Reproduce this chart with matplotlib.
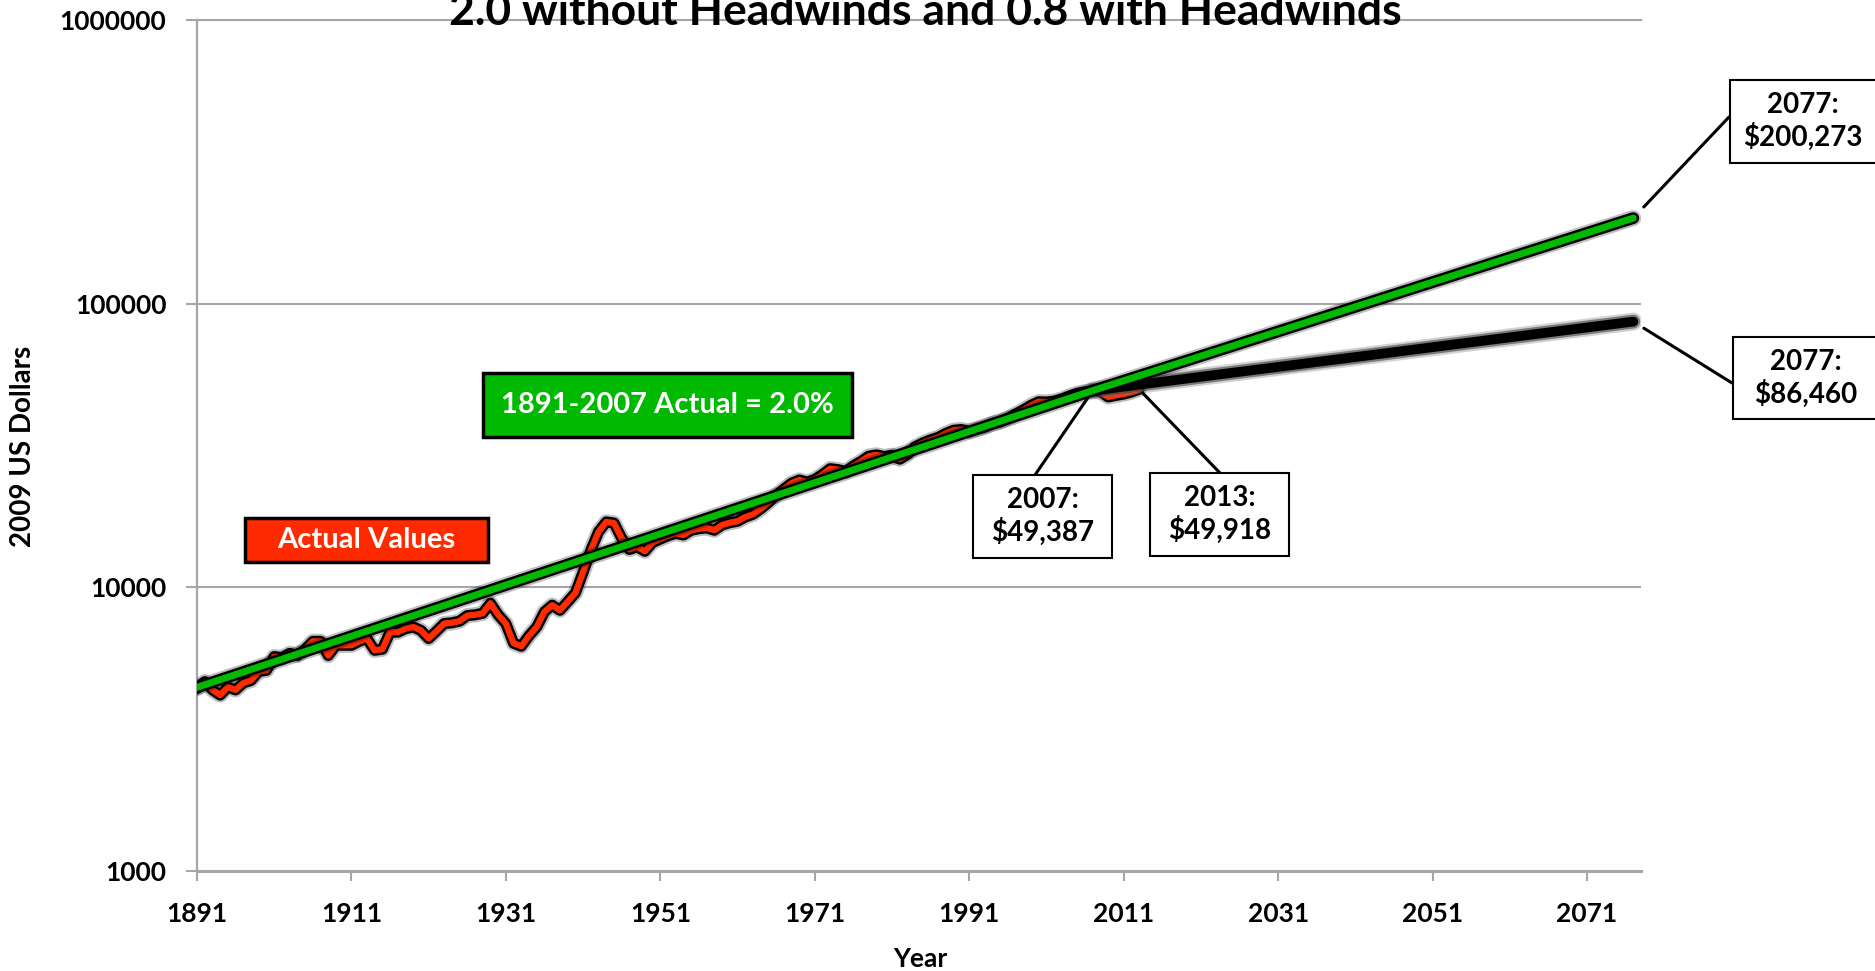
import numpy as np
import matplotlib
matplotlib.use('Agg')
import matplotlib.pyplot as plt
import matplotlib.patheffects as pe
from matplotlib.patches import Rectangle

matplotlib.rcParams['font.family'] = ['Lato', 'DejaVu Sans']
matplotlib.rcParams['font.weight'] = 'bold'

##################################################################
# actual real GDP per capita, 2009 dollars
years = np.arange(1891, 2014)
actual = [4400, 4650, 4350, 4170, 4450, 4350, 4600, 4700, 5050, 5100,
          5700, 5650, 5850, 5750, 6050, 6450, 6450, 5750, 6250, 6250,
          6250, 6450, 6600, 6000, 6050, 6950, 6950, 7150, 7250, 7050,
          6600, 7000, 7450, 7500, 7600, 7950, 8000, 8100, 8790, 8000,
          7450, 6350, 6200, 6750, 7250, 8200, 8650, 8300, 8900, 9550,
          11300, 13500, 15700, 17000, 16850, 14900, 13600, 13900, 13400, 14400,
          14800, 15200, 15500, 15300, 15900, 16100, 16200, 15900, 16600, 16900,
          17100, 17700, 18100, 18900, 19900, 21100, 22200, 23300, 23900, 23500,
          24000, 25000, 26200, 26000, 25600, 26800, 27800, 29000, 29300, 28900,
          29200, 28300, 29400, 31300, 32300, 33100, 33800, 34900, 35800, 36000,
          35400, 36100, 36700, 37800, 38300, 39400, 40800, 42200, 43800, 45100,
          45000, 45300, 46100, 47300, 48300, 48900, 49387, 48900, 46900, 47500,
          48000, 48800, 49918]

# trend without headwinds (green) and with headwinds (black)
trend_years = [1891, 2007, 2077]
trend_vals = [4440, 49387, 200273]
head_years = [2007, 2077]
head_vals = [49387, 86460]

xticks = [1891, 1911, 1931, 1951, 1971, 1991, 2011, 2031, 2051, 2071]
yticks = [1000, 10000, 100000, 1000000]

title = '2.0 without Headwinds and 0.8 with Headwinds'

##################################################################
W, H = 1875., 971.
fig = plt.figure(figsize=(W / 100, H / 100), dpi=100)
ax = fig.add_axes([197 / W, 1 - 871 / H, (1641 - 197) / W, (871 - 20) / H])

gray = '#a6a6a6'
red = '#ff2a00'
green = '#00b900'

ax.plot(years, actual, color=red, lw=4.5, solid_capstyle='round', solid_joinstyle='round', zorder=3,
        path_effects=[pe.Stroke(linewidth=11, foreground='k', alpha=0.25),
                      pe.Stroke(linewidth=8, foreground='k'), pe.Normal()])
ax.plot(head_years, head_vals, color='k', lw=7, solid_capstyle='round', zorder=4,
        path_effects=[pe.Stroke(linewidth=13, foreground='#808080', alpha=0.35),
                      pe.Stroke(linewidth=10, foreground='#404040', alpha=0.6), pe.Normal()])
ax.plot(trend_years, trend_vals, color=green, lw=5, solid_capstyle='round', zorder=5,
        path_effects=[pe.Stroke(linewidth=11.5, foreground='k', alpha=0.25),
                      pe.Stroke(linewidth=8.5, foreground='k'), pe.Normal()])

ax.set_yscale('log')
ax.set_ylim(1000, 1000000)
ax.set_xlim(1891, 2078)
ax.set_yticks(yticks)
ax.set_yticklabels([str(v) for v in yticks])
ax.yaxis.set_minor_locator(matplotlib.ticker.NullLocator())
ax.set_xticks(xticks)
ax.set_xticklabels([str(v) for v in xticks])

ax.yaxis.grid(True, color=gray, lw=1.5)
ax.set_axisbelow(True)
for s in ['right']:
    ax.spines[s].set_visible(False)
ax.spines['top'].set_color(gray)
ax.spines['top'].set_linewidth(1.5)
ax.spines['left'].set_color(gray)
ax.spines['left'].set_linewidth(1.6)
ax.spines['bottom'].set_color(gray)
ax.spines['bottom'].set_linewidth(2.2)
ax.tick_params(axis='x', length=7.5, width=1.5, color=gray, pad=15, labelsize=19)
ax.tick_params(axis='y', length=8, width=1.5, color=gray, pad=14, labelsize=19)
for lab in ax.get_xticklabels() + ax.get_yticklabels():
    lab.set_fontweight('bold')

##################################################################
fig.text(925 / W, 1 - 25 / H, title, ha='center', va='baseline', fontsize=32, fontweight='bold')
fig.text(23 / W, 1 - 446 / H, '2009 US Dollars', ha='center', va='center', rotation=90,
         fontsize=20, fontweight='bold')
fig.text(920 / W, 1 - 967 / H, 'Year', ha='center', va='baseline', fontsize=19, fontweight='bold')

def fig_box(x0, y0, x1, y1, fc, lw=2.0):
    r = Rectangle((x0 / W, 1 - y1 / H), (x1 - x0) / W, (y1 - y0) / H, transform=fig.transFigure,
                  facecolor=fc, edgecolor='k', lw=lw, zorder=6)
    fig.add_artist(r)

fig_box(245, 518, 488, 562, red, lw=2.5)
fig.text(366 / W, 1 - 540 / H, 'Actual Values', ha='center', va='center', color='w',
         fontsize=21, fontweight='bold', zorder=7)
fig_box(483, 373, 852, 437, green, lw=2.5)
fig.text(667 / W, 1 - 405 / H, '1891-2007 Actual = 2.0%', ha='center', va='center', color='w',
         fontsize=21, fontweight='bold', zorder=7)

# value call-outs: box (x0, y0, x1, y1), leader start, data point, shrink
callouts = [
    ((973, 475, 1112, 558), (1035, 475), (2007, 49387), 6, '2007:\n$49,387'),
    ((1150, 473, 1289, 556), (1220, 473), (2013, 49918), 4, '2013:\n$49,918'),
    ((1730, 80, 1878, 163), (1729, 117), (2077, 200273), 11, '2077:\n$200,273'),
    ((1733, 337, 1880, 419), (1732, 383), (2077, 86460), 9, '2077:\n$86,460'),
]
for (x0, y0, x1, y1), (sx, sy), xy, shr, txt in callouts:
    fig_box(x0, y0, x1, y1, 'w', lw=1.5)
    cx = (x0 + min(x1, 1876)) / 2.
    if x1 > W:
        cx = x0 + 73
    fig.text(cx / W, 1 - (y0 + y1) / 2. / H, txt, ha='center', va='center', fontsize=20,
             fontweight='bold', linespacing=1.2, zorder=7)
    ax.annotate('', xy=xy, xycoords='data', xytext=(sx / W, 1 - sy / H), textcoords='figure fraction',
                arrowprops=dict(arrowstyle='-', color='k', lw=2.2, shrinkA=0, shrinkB=shr),
                annotation_clip=False, zorder=6)

fig.savefig('out.png', dpi=100)
